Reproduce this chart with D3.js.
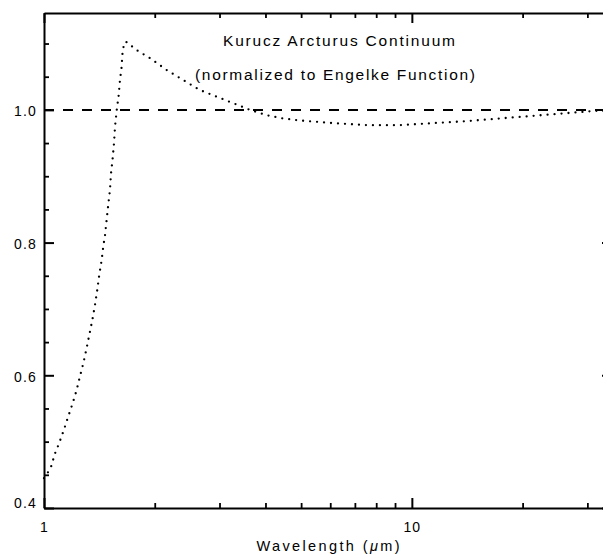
<!DOCTYPE html>
<html>
<head>
<meta charset="utf-8">
<script src="https://cdn.jsdelivr.net/npm/d3@7"></script>
<style>
  html, body { margin: 0; padding: 0; background: #fff; }
  svg { display: block; font-family: "Liberation Sans", Arial, sans-serif; }
</style>
</head>
<body>
<svg id="chart" width="603" height="559"></svg>
<script>
// ---- data ----
const wavelength = [1.000, 1.021, 1.045, 1.071, 1.100, 1.133, 1.164, 1.197, 1.227, 1.252,
  1.279, 1.306, 1.328, 1.353, 1.376, 1.396, 1.413, 1.435, 1.449, 1.465,
  1.480, 1.495, 1.511, 1.521, 1.537, 1.550, 1.560, 1.576, 1.596, 1.609,
  1.626, 1.633, 1.643, 1.667, 1.713, 1.786, 1.941, 2.155, 2.39, 2.65,
  3.27, 3.63, 4.03, 4.47, 4.96, 6.11, 7.53, 9.28, 11.4, 14.1,
  17.3, 21.4, 26.3, 32.4, 35.0];
const ratio = [0.445, 0.452, 0.462, 0.482, 0.498, 0.518, 0.538, 0.558, 0.578, 0.598,
  0.618, 0.641, 0.661, 0.683, 0.706, 0.729, 0.751, 0.774, 0.794, 0.811,
  0.834, 0.857, 0.879, 0.904, 0.927, 0.950, 0.975, 0.999, 1.022, 1.045,
  1.065, 1.083, 1.094, 1.103, 1.098, 1.090, 1.078, 1.060, 1.045, 1.030,
  1.010, 1.000, 0.992, 0.987, 0.984, 0.980, 0.977, 0.977, 0.980, 0.983,
  0.987, 0.991, 0.995, 0.999, 1.000];
const referenceLevel = [1.0];
const xDomain = [1, 35];
const yDomain = [0.4, 1.146];
const xMajorTicks = [1, 10];
const xMinorTicks = [2, 3, 4, 5, 6, 7, 8, 9, 20, 30];
const yMajorTicks = [0.4, 0.6, 0.8, 1.0];
const yMinorTicks = [0.45, 0.5, 0.55, 0.65, 0.7, 0.75, 0.85, 0.9, 0.95, 1.05, 1.1];
const titleLines = ["Kurucz Arcturus Continuum", "(normalized to Engelke Function)"];

// ---- layout ----
const svg = d3.select("#chart");
const mLeft = 44, mRight = 612, mTop = 13, mBottom = 508;
const x = d3.scaleLog().domain(xDomain).range([mLeft, mRight]);
const y = d3.scaleLinear().domain(yDomain).range([mBottom, mTop]);

function styleAxis(g, width) {
  g.select(".domain").attr("stroke", "#000").attr("stroke-width", width);
  g.selectAll(".tick line").attr("stroke", "#000").attr("stroke-width", 2);
  g.selectAll(".tick text").attr("font-size", 14).attr("fill", "#000")
    .attr("font-family", "'Liberation Sans', Arial, sans-serif")
    .attr("letter-spacing", "1.2px");
}
function styleMinor(g) {
  g.select(".domain").remove();
  g.selectAll("line").attr("stroke", "#000").attr("stroke-width", 1.8);
}

// bottom axis (major with labels)
const gB = svg.append("g").attr("transform", `translate(0,${mBottom})`)
  .call(d3.axisBottom(x).tickValues(xMajorTicks).tickFormat(d3.format("d"))
    .tickSizeInner(-10).tickSizeOuter(0).tickPadding(14));
styleAxis(gB, 2);
svg.append("g").attr("transform", `translate(0,${mBottom})`)
  .call(d3.axisBottom(x).tickValues(xMinorTicks).tickFormat("").tickSizeInner(-5).tickSizeOuter(0))
  .call(styleMinor);

// top axis
const gT = svg.append("g").attr("transform", `translate(0,${mTop})`)
  .call(d3.axisTop(x).tickValues(xMajorTicks).tickFormat("").tickSizeInner(-10).tickSizeOuter(0));
styleAxis(gT, 2);
svg.append("g").attr("transform", `translate(0,${mTop})`)
  .call(d3.axisTop(x).tickValues(xMinorTicks).tickFormat("").tickSizeInner(-5).tickSizeOuter(0))
  .call(styleMinor);

// left axis
const gL = svg.append("g").attr("transform", `translate(${mLeft},0)`)
  .call(d3.axisLeft(y).tickValues(yMajorTicks).tickFormat(d3.format(".1f"))
    .tickSizeInner(-10).tickSizeOuter(0).tickPadding(7));
styleAxis(gL, 2);
gL.selectAll(".tick text").attr("dy", d => d === 0.4 ? "-0.05em" : "0.42em");
svg.append("g").attr("transform", `translate(${mLeft},0)`)
  .call(d3.axisLeft(y).tickValues(yMinorTicks).tickFormat("").tickSizeInner(-5).tickSizeOuter(0))
  .call(styleMinor);

// right axis
const gR = svg.append("g").attr("transform", `translate(${mRight},0)`)
  .call(d3.axisRight(y).tickValues(yMajorTicks).tickFormat("").tickSizeInner(-10).tickSizeOuter(0));
styleAxis(gR, 2);

// dashed reference line
svg.selectAll(".ref").data(referenceLevel).join("line")
  .attr("class", "ref")
  .attr("x1", x(xDomain[0])).attr("x2", x(xDomain[1]))
  .attr("y1", d => y(d)).attr("y2", d => y(d))
  .attr("stroke", "#000").attr("stroke-width", 2)
  .attr("stroke-dasharray", "10,9");

// dotted curve
const pts = wavelength.map((w, i) => [w, ratio[i]]);
svg.append("path")
  .datum(pts)
  .attr("d", d3.line().x(d => x(d[0])).y(d => y(d[1])))
  .attr("fill", "none").attr("stroke", "#000")
  .attr("stroke-width", 2.3).attr("stroke-linecap", "round")
  .attr("stroke-dasharray", "0,7");

// titles
svg.append("text").attr("x", 339).attr("y", 46).attr("text-anchor", "middle")
  .attr("font-size", 15.5).attr("textLength", 232).attr("lengthAdjust", "spacing")
  .text(titleLines[0]);
svg.append("text").attr("x", 335).attr("y", 80).attr("text-anchor", "middle")
  .attr("font-size", 15.5).attr("textLength", 280).attr("lengthAdjust", "spacing")
  .text(titleLines[1]);

// x axis title
const xt = svg.append("text").attr("x", 328).attr("y", 551).attr("text-anchor", "middle")
  .attr("font-size", 14.5).attr("textLength", 143).attr("lengthAdjust", "spacing");
xt.append("tspan").text("Wavelength (");
xt.append("tspan").attr("font-style", "italic").text("μ");
xt.append("tspan").text("m)");
</script>
</body>
</html>
